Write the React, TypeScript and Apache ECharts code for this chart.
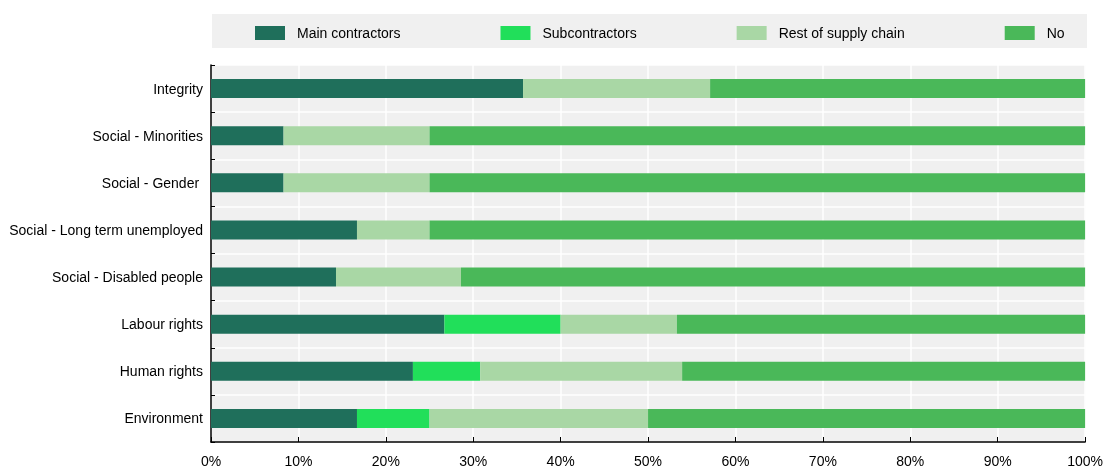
import React, { useEffect, useRef } from "react";
import * as echarts from "echarts";

const categories = [
  "Integrity",
  "Social - Minorities",
  "Social - Gender ",
  "Social - Long term unemployed",
  "Social - Disabled people",
  "Labour rights",
  "Human rights",
  "Environment",
];
const seriesNames = ["Main contractors", "Subcontractors", "Rest of supply chain", "No"];
const mainContractors = [35.7, 8.3, 8.3, 16.7, 14.3, 26.7, 23.1, 16.7];
const subcontractors = [0, 0, 0, 0, 0, 13.3, 7.7, 8.3];
const restOfSupplyChain = [21.4, 16.7, 16.7, 8.3, 14.3, 13.3, 23.1, 25.0];
const no = [42.9, 75.0, 75.0, 75.0, 71.4, 46.7, 46.2, 50.0];
const colors = ["#1f6f5b", "#21df5a", "#a9d7a5", "#4ab859"];

const FONT = "'Liberation Sans', Arial, sans-serif";

export default function App() {
  const ref = useRef<HTMLDivElement>(null);
  useEffect(() => {
    const chart = echarts.init(ref.current!, null, { renderer: "svg" });
    const values = [mainContractors, subcontractors, restOfSupplyChain, no];
    chart.setOption({
      animation: false,
      textStyle: { fontFamily: FONT },
      color: colors,
      graphic: [
        {
          type: "rect",
          left: 212,
          top: 14,
          shape: { width: 875, height: 34 },
          style: { fill: "#f0f0f0" },
          z: -10,
          silent: true,
        },
      ],
      legend: {
        left: 250,
        top: 21,
        itemWidth: 30,
        itemHeight: 14,
        itemGap: 100,
        icon: "rect",
        data: seriesNames,
        textStyle: { fontSize: 14, color: "#000", fontFamily: FONT, padding: [0, 0, 0, 7] },
      },
      grid: {
        left: 211,
        right: 19,
        top: 65,
        bottom: 29,
        show: true,
        backgroundColor: "#f0f0f0",
        borderWidth: 0,
      },
      xAxis: {
        type: "value",
        min: 0,
        max: 100,
        interval: 10,
        axisLabel: {
          formatter: "{value}%",
          fontSize: 14,
          color: "#000",
          margin: 12,
          fontFamily: FONT,
        },
        axisLine: { show: true, lineStyle: { color: "#000", width: 1.5 } },
        axisTick: { show: true, inside: true, length: 5, lineStyle: { color: "#000" } },
        splitLine: { show: true, lineStyle: { color: "#ffffff", width: 1.5 } },
      },
      yAxis: {
        type: "category",
        inverse: true,
        data: categories,
        axisLabel: { fontSize: 14, color: "#000", margin: 8, fontFamily: FONT },
        axisLine: { show: true, lineStyle: { color: "#000", width: 1.5 } },
        axisTick: { show: true, inside: true, length: 4, lineStyle: { color: "#000" } },
        splitLine: { show: true, lineStyle: { color: "#ffffff", width: 1.5 } },
      },
      series: seriesNames.map((name, i) => ({
        name,
        type: "bar",
        stack: "total",
        barWidth: 19,
        data: values[i],
        itemStyle: { color: colors[i] },
      })),
    });
    return () => chart.dispose();
  }, []);
  return (
    <div
      ref={ref}
      style={{ position: "fixed", left: 0, top: 0, width: 1106, height: 471 }}
    />
  );
}
